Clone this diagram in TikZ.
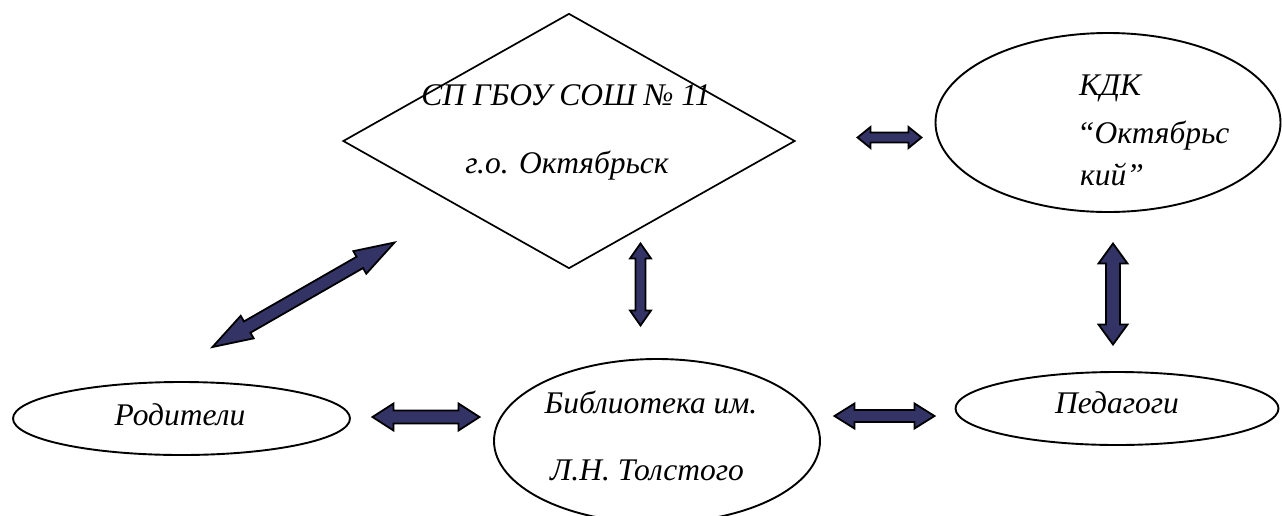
\documentclass[tikz,border=0pt]{standalone}
\usepackage{fontspec}
\setmainfont{Liberation Serif}
\usetikzlibrary{shapes.geometric,calc}
\definecolor{navy}{RGB}{51,51,102}
\tikzset{
  outline/.style={draw=black, line width=1.9pt, fill=white},
  oval/.style={outline, ellipse, inner sep=0pt},
  rhomb/.style={outline, diamond, inner sep=0pt, line width=1.7pt},
  lbl/.style={anchor=base, inner sep=0pt, font=\itshape\fontsize{31.5}{36}\selectfont},
  blockarrow/.style={draw=black, line width=1.8pt, fill=navy, line join=miter}
}
\newcommand\dblarrow[5]{%
  \coordinate (tmpa) at ($(#1)!#3!(#2)$);
  \coordinate (tmpb) at ($(#2)!#3!(#1)$);
  \draw[blockarrow] (#1) -- ($(tmpa)!#4!90:(#2)$) -- ($(tmpa)!#5!90:(#2)$)
    -- ($(tmpb)!#5!-90:(#1)$) -- ($(tmpb)!#4!-90:(#1)$) -- (#2)
    -- ($(tmpb)!#4!90:(#1)$) -- ($(tmpb)!#5!90:(#1)$)
    -- ($(tmpa)!#5!-90:(#2)$) -- ($(tmpa)!#4!-90:(#2)$) -- cycle;}
\begin{document}
\begin{tikzpicture}[x=1pt,y=-1pt]
\useasboundingbox (0,0) rectangle (1282,515);
% shapes
\node[rhomb, minimum width=452pt, minimum height=255pt] (sp) at (569,141) {};
\node[oval, minimum width=345pt, minimum height=179pt] (kdk) at (1108,122.5) {};
\node[oval, minimum width=326pt, minimum height=164pt] (lib) at (657,441) {};
\node[oval, minimum width=323pt, minimum height=73pt] (ped) at (1117,408.5) {};
\node[oval, minimum width=337pt, minimum height=73pt] (rod) at (181.5,418.5) {};
% texts
\node[lbl] (sp1) at (566,105) {СП ГБОУ СОШ № 11};
\node[lbl] (sp2) at (567,173) {г.о. Октябрьск};
\node[lbl, anchor=base west] (kdk1) at (1079,95) {КДК};
\node[lbl, anchor=base west] (kdk2) at (1077,143) {“Октябрьс};
\node[lbl, anchor=base west] (kdk3) at (1080,185) {кий”};
\node[lbl] (lib1) at (651,413) {Библиотека им.};
\node[lbl] (lib2) at (647,480) {Л.Н. Толстого};
\node[lbl] (ped1) at (1117,413) {Педагоги};
\node[lbl] (rod1) at (180,425) {Родители};
% arrow end points
\coordinate (a1s) at (857.5,137.5);
\coordinate (a1e) at (921.5,137.5);
\coordinate (a2s) at (640.5,243.5);
\coordinate (a2e) at (640.5,325.5);
\coordinate (a3s) at (212.5,347);
\coordinate (a3e) at (394.5,242.5);
\coordinate (a4s) at (1113,243.5);
\coordinate (a4e) at (1113,344.5);
\coordinate (a5s) at (372.5,417);
\coordinate (a5e) at (479.5,417);
\coordinate (a6s) at (834.5,416);
\coordinate (a6e) at (934.5,416);
% arrows
\dblarrow{a1s}{a1e}{13pt}{10.5pt}{5pt}
\dblarrow{a2s}{a2e}{15pt}{10.5pt}{5pt}
\dblarrow{a3s}{a3e}{40pt}{13pt}{6.5pt}
\dblarrow{a4s}{a4e}{20pt}{14.5pt}{7pt}
\dblarrow{a5s}{a5e}{21pt}{13.5pt}{6.5pt}
\dblarrow{a6s}{a6e}{20pt}{12.5pt}{6pt}
\end{tikzpicture}
\end{document}
